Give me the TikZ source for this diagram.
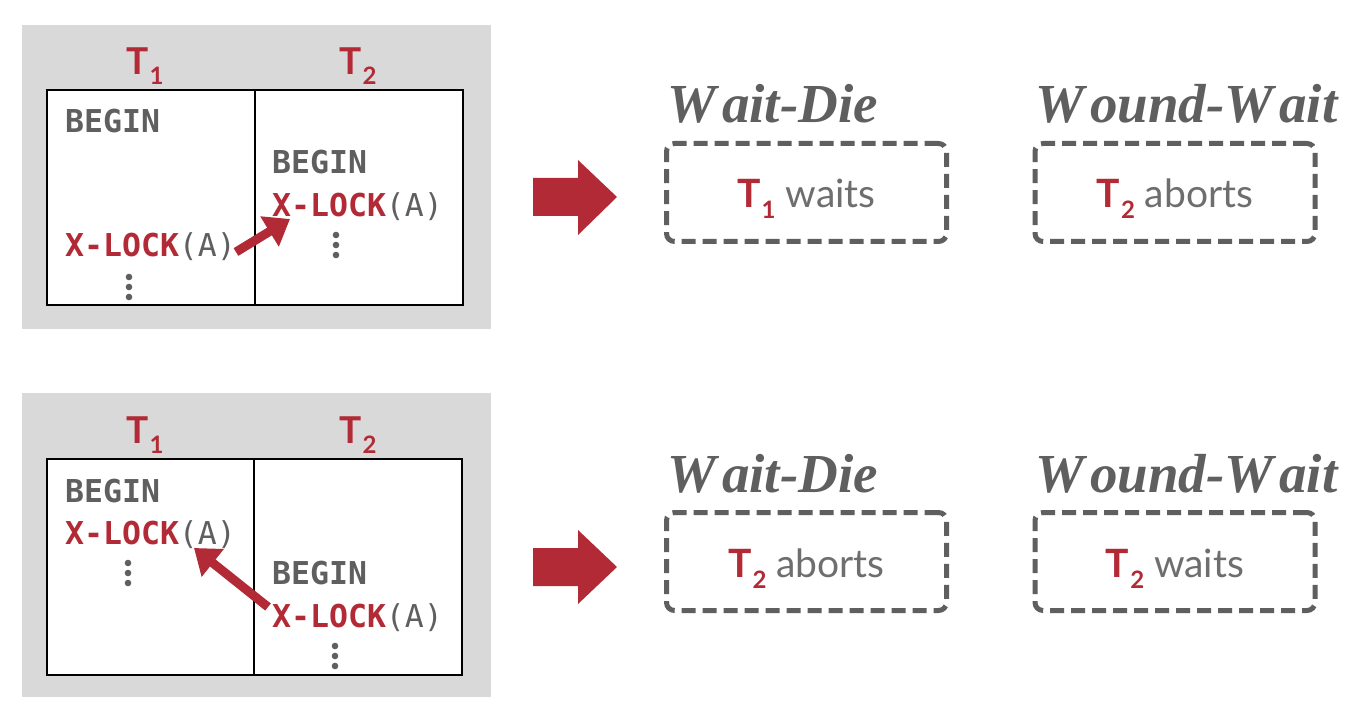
\documentclass[tikz,border=0pt]{standalone}
\usepackage{fontspec}
\usetikzlibrary{arrows.meta}
\newfontfamily\monofont{DejaVu Sans Mono}
\newfontfamily\labelfont{Lato}
\newfontfamily\titlefont{Liberation Serif}
\definecolor{dbred}{HTML}{B22A35}
\definecolor{dbgray}{HTML}{5F5F5F}
\definecolor{lightgraytext}{HTML}{6E6E6E}
\definecolor{panelgray}{HTML}{D9D9D9}
\newcommand\xlockline{\textcolor{dbred}{\bfseries X-LOCK}(A)}
\newcommand\beginline{\bfseries BEGIN}
\newcommand\tname[1]{T\kern1pt\raisebox{-10pt}{\fontsize{24}{24}\selectfont #1}}
\newcommand\tsmall[1]{\textcolor{dbred}{\bfseries T\kern1pt\raisebox{-11pt}{\fontsize{24}{24}\selectfont #1}}}
\newcommand\bigW{W\kern6pt}
\tikzset{
  code/.style={anchor=base west, inner sep=0pt, text=dbgray,
    font=\monofont\fontsize{31.5}{31.5}\selectfont},
  tlabel/.style={anchor=base, inner sep=0pt, text=dbred,
    font=\labelfont\bfseries\fontsize{37}{37}\selectfont},
  title/.style={anchor=base west, inner sep=0pt, text=dbgray,
    font=\titlefont\bfseries\itshape\fontsize{55}{55}\selectfont},
  outcome/.style={draw=dbgray, line width=5pt, dash pattern=on 14pt off 7pt,
    rounded corners=8pt, minimum width=280pt, minimum height=98pt,
    inner sep=0pt, text height=31pt, text depth=0pt, text=lightgraytext,
    font=\labelfont\fontsize{39}{39}\selectfont},
  panel/.style={fill=panelgray, draw=none},
  table/.style={fill=white, draw=black, line width=2pt},
  divider/.style={draw=black, line width=2pt},
  dot/.style={fill=dbgray},
  conflict/.style={draw=dbred, line width=9pt, -{Triangle[length=24pt,width=34pt]}},
  bigarrow/.style={fill=dbred}
}
\begin{document}
\begin{tikzpicture}[x=1pt,y=-1pt]
\useasboundingbox[fill=white] (0,0) rectangle (1350,714);

% ---------- top scenario ----------
\fill[panel] (22,25) rectangle (491,329);
\draw[table] (47,90) rectangle (463,305);
\draw[divider] (255,90) -- (255,305);
\node[tlabel] (t1a) at (145,75) {\tname{1}};
\node[tlabel] (t2a) at (358,75) {\tname{2}};
\node[code] (b1a) at (65,133) {\beginline};
\node[code] (l1a) at (65,257) {\xlockline};
\foreach \yy in {277,287,297} \fill[dot] (129,\yy) circle (3.3pt);
\node[code] (b2a) at (272,174) {\beginline};
\node[code] (l2a) at (272,217) {\xlockline};
\foreach \yy in {235,245,255} \fill[dot] (336,\yy) circle (3.3pt);
\coordinate (fromA) at (236,252);
\coordinate (toA) at (290,219);
\draw[conflict] (fromA) -- (toA);

\fill[bigarrow] (533,178) -- (578,178) -- (578,160) -- (617,197) -- (578,235) -- (578,216) -- (533,216) -- cycle;

\node[title] (wd1) at (667,123) {\bigW ait-Die};
\node[title] (ww1) at (1035,123) {\bigW ound-\bigW ait};
\node[outcome] (o1) at (806.5,192.5) {\tsmall{1} waits};
\node[outcome] (o2) at (1175,192.5) {\tsmall{2} aborts};

% ---------- bottom scenario ----------
\fill[panel] (22,393) rectangle (491,697);
\draw[table] (47,459) rectangle (462,675);
\draw[divider] (254,459) -- (254,675);
\node[tlabel] (t1b) at (145,443) {\tname{1}};
\node[tlabel] (t2b) at (358,443) {\tname{2}};
\node[code] (b1b) at (65,502) {\beginline};
\node[code] (l1b) at (65,544) {\xlockline};
\foreach \yy in {563,573,583} \fill[dot] (128,\yy) circle (3.3pt);
\node[code] (b2b) at (272,584) {\beginline};
\node[code] (l2b) at (272,627) {\xlockline};
\foreach \yy in {646,656,666} \fill[dot] (335,\yy) circle (3.3pt);
\coordinate (fromB) at (268,607);
\coordinate (toB) at (194,548);
\draw[conflict] (fromB) -- (toB);

\fill[bigarrow] (533,548) -- (578,548) -- (578,530) -- (617,567) -- (578,604) -- (578,586) -- (533,586) -- cycle;

\node[title] (wd2) at (667,492) {\bigW ait-Die};
\node[title] (ww2) at (1035,492) {\bigW ound-\bigW ait};
\node[outcome] (o3) at (806.5,561.5) {\tsmall{2} aborts};
\node[outcome] (o4) at (1175,561.5) {\tsmall{2} waits};
\end{tikzpicture}
\end{document}
